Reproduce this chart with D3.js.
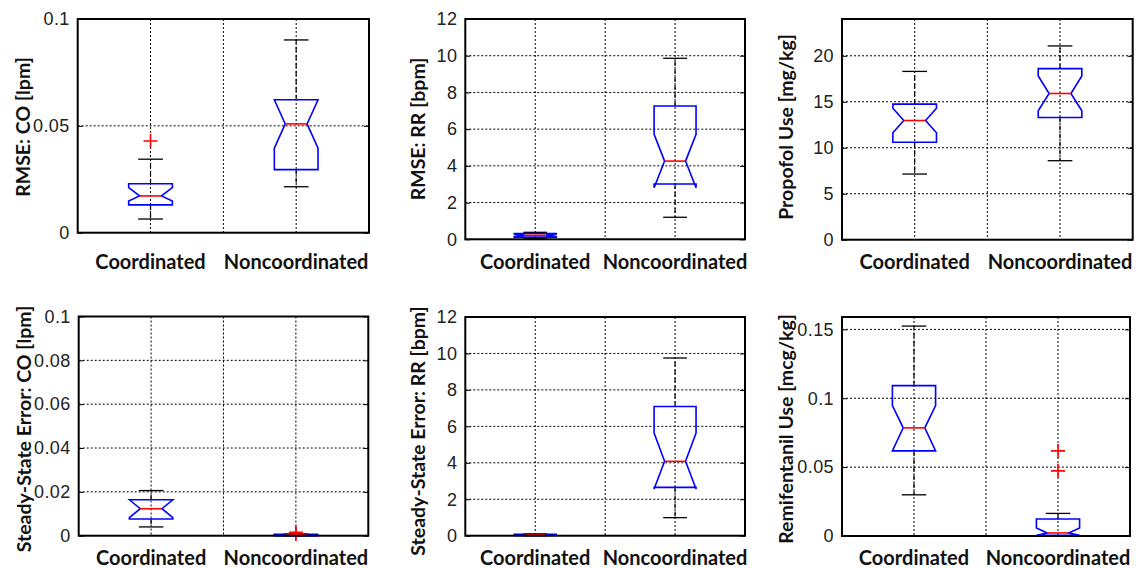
<!DOCTYPE html>
<html>
<head>
<meta charset="utf-8">
<script src="https://cdn.jsdelivr.net/npm/d3@7"></script>
<style>
  body { margin: 0; background: #fff; }
  .tick-label { font-family: "Liberation Sans", Arial, sans-serif; font-size: 18px; letter-spacing: 0.4px; fill: #222; }
  .axis-title { font-family: Lato, "Liberation Sans", sans-serif; font-size: 19.5px; font-weight: bold; fill: #111; }
  .cat-label { font-family: Lato, "Liberation Sans", sans-serif; font-size: 20px; font-weight: bold; fill: #111; }
</style>
</head>
<body>
<svg id="chart" width="1136" height="568" viewBox="0 0 1136 568"></svg>
<script>
const categories = ["Coordinated", "Noncoordinated"];

// box stats, one entry per group
// lo/hi = whisker ends, nlo/nhi = notch ends
const rmseCO = [
    { lo: 0.0064, q1: 0.0130, nlo: 0.0148, med: 0.0172, nhi: 0.0211, q3: 0.0229, hi: 0.0344 },
    { lo: 0.0215, q1: 0.0295, nlo: 0.0395, med: 0.0509, nhi: 0.0622, q3: 0.0622, hi: 0.0902 }
];
const rmseCOOutliers = [[0.0429], []];

const rmseRR = [
    { lo: 0.05, q1: 0.12, nlo: 0.15, med: 0.22, nhi: 0.29, q3: 0.32, hi: 0.38 },
    { lo: 1.20, q1: 3.01, nlo: 2.81, med: 4.26, nhi: 5.72, q3: 7.26, hi: 9.86 }
];
const rmseRROutliers = [[], []];

const propofol = [
    { lo: 7.14, q1: 10.59, nlo: 11.62, med: 12.96, nhi: 14.30, q3: 14.74, hi: 18.30 },
    { lo: 8.59, q1: 13.29, nlo: 14.02, med: 15.90, nhi: 17.80, q3: 18.60, hi: 21.07 }
];
const propofolOutliers = [[], []];

const sseCO = [
    { lo: 0.0040, q1: 0.0076, nlo: 0.0082, med: 0.0123, nhi: 0.0164, q3: 0.0164, hi: 0.0206 },
    { lo: 0.0000, q1: 0.0000, nlo: 0.0001, med: 0.0003, nhi: 0.0005, q3: 0.0006, hi: 0.0008 }
];
const sseCOOutliers = [[], [0.0016, 0.0008]];

const sseRR = [
    { lo: 0.00, q1: 0.02, nlo: 0.03, med: 0.05, nhi: 0.07, q3: 0.08, hi: 0.10 },
    { lo: 0.99, q1: 2.65, nlo: 2.56, med: 4.08, nhi: 5.63, q3: 7.09, hi: 9.75 }
];
const sseRROutliers = [[], []];

const remifentanil = [
    { lo: 0.0299, q1: 0.0618, nlo: 0.0618, med: 0.0785, nhi: 0.0947, q3: 0.1092, hi: 0.1524 },
    { lo: 0.0000, q1: 0.0005, nlo: 0.0005, med: 0.0022, nhi: 0.0058, q3: 0.0123, hi: 0.0164 }
];
const remifentanilOutliers = [[], [0.0618, 0.0473]];

// y ticks per panel
const ticksCO = [0, 0.05, 0.1];
const ticksRR = [0, 2, 4, 6, 8, 10, 12];
const ticksPropofol = [0, 5, 10, 15, 20];
const ticksSSECO = [0, 0.02, 0.04, 0.06, 0.08, 0.1];
const ticksRemi = [0, 0.05, 0.1, 0.15];

const svg = d3.select("#chart");

// panel layout: plot rectangle, y range, title position
const panels = [
    { x0: 77.7, x1: 369, y0: 19, y1: 232.7, ymax: 0.1, ticks: ticksCO, stats: rmseCO, outliers: rmseCOOutliers,
      title: "RMSE: CO [lpm]", tx: 22, ty: 127, catY: 269 },
    { x0: 465.3, x1: 745, y0: 19, y1: 239.3, ymax: 12, ticks: ticksRR, stats: rmseRR, outliers: rmseRROutliers,
      title: "RMSE: RR [bpm]", tx: 417, ty: 129, catY: 269 },
    { x0: 842, x1: 1132.7, y0: 19, y1: 239.7, ymax: 24, ticks: ticksPropofol, stats: propofol, outliers: propofolOutliers,
      title: "Propofol Use [mg/kg]", tx: 785, ty: 127, catY: 269 },
    { x0: 78.7, x1: 368.3, y0: 316.5, y1: 535.7, ymax: 0.1, ticks: ticksSSECO, stats: sseCO, outliers: sseCOOutliers,
      title: "Steady-State Error: CO [lpm]", tx: 23, ty: 429, catY: 565 },
    { x0: 465.3, x1: 745, y0: 317, y1: 535.7, ymax: 12, ticks: ticksRR, stats: sseRR, outliers: sseRROutliers,
      title: "Steady-State Error: RR [bpm]", tx: 417, ty: 431, catY: 565 },
    { x0: 842, x1: 1130, y0: 317, y1: 536, ymax: 0.159, ticks: ticksRemi, stats: remifentanil, outliers: remifentanilOutliers,
      title: "Remifentanil Use [mcg/kg]", tx: 785, ty: 429, catY: 565 }
];

panels.forEach(drawPanel);

function drawPanel(p) {
    const x = d3.scaleLinear().domain([0.5, 2.5]).range([p.x0, p.x1]);
    const y = d3.scaleLinear().domain([0, p.ymax]).range([p.y1, p.y0]);
    const g = svg.append("g");

    const hw = x(1.15) - x(1);     // box half width
    const ww = hw / 2;              // notch waist half width
    const cw = x(1.085) - x(1);     // whisker cap half width

    // grid
    g.append("g").selectAll("line")
        .data(p.ticks)
        .join("line")
        .attr("x1", p.x0).attr("x2", p.x1)
        .attr("y1", d => y(d)).attr("y2", d => y(d))
        .attr("stroke", "#000").attr("stroke-width", 1)
        .attr("stroke-dasharray", "2,2");

    g.append("g").selectAll("line")
        .data([1, 1.5, 2])
        .join("line")
        .attr("x1", d => x(d)).attr("x2", d => x(d))
        .attr("y1", p.y0).attr("y2", p.y1)
        .attr("stroke", "#000").attr("stroke-width", 1)
        .attr("stroke-dasharray", "2,2");

    const groups = g.append("g").selectAll("g")
        .data(p.stats)
        .join("g");

    // whiskers
    groups.append("line")
        .attr("x1", (d, i) => x(i + 1)).attr("x2", (d, i) => x(i + 1))
        .attr("y1", d => y(d.q3)).attr("y2", d => y(d.hi))
        .attr("stroke", "#000").attr("stroke-width", 1.2)
        .attr("stroke-dasharray", "5,3");
    groups.append("line")
        .attr("x1", (d, i) => x(i + 1)).attr("x2", (d, i) => x(i + 1))
        .attr("y1", d => y(d.q1)).attr("y2", d => y(d.lo))
        .attr("stroke", "#000").attr("stroke-width", 1.2)
        .attr("stroke-dasharray", "5,3");
    ["hi", "lo"].forEach(k => {
        groups.append("line")
            .attr("x1", (d, i) => x(i + 1) - cw).attr("x2", (d, i) => x(i + 1) + cw)
            .attr("y1", d => y(d[k])).attr("y2", d => y(d[k]))
            .attr("stroke", "#000").attr("stroke-width", 1.3);
    });

    // notched boxes
    groups.append("path")
        .attr("d", (d, i) => {
            const cx = x(i + 1);
            const pts = [
                [cx - hw, y(d.q3)], [cx - hw, y(d.nhi)], [cx - ww, y(d.med)], [cx - hw, y(d.nlo)], [cx - hw, y(d.q1)],
                [cx + hw, y(d.q1)], [cx + hw, y(d.nlo)], [cx + ww, y(d.med)], [cx + hw, y(d.nhi)], [cx + hw, y(d.q3)]
            ];
            return d3.line()(pts) + "Z";
        })
        .attr("fill", "none")
        .attr("stroke", "#0000ff").attr("stroke-width", 1.6);

    // medians
    groups.append("line")
        .attr("x1", (d, i) => x(i + 1) - ww).attr("x2", (d, i) => x(i + 1) + ww)
        .attr("y1", d => y(d.med)).attr("y2", d => y(d.med))
        .attr("stroke", "#ff0000").attr("stroke-width", 1.6);

    // outliers
    const pts = p.outliers.flatMap((arr, i) => arr.map(v => ({ i, v })));
    g.append("g").selectAll("path")
        .data(pts)
        .join("path")
        .attr("d", d => {
            const cx = x(d.i + 1), cy = y(d.v), s = 7;
            return `M${cx - s},${cy}H${cx + s}M${cx},${cy - s}V${cy + s}`;
        })
        .attr("stroke", "#ff0000").attr("stroke-width", 1.6);

    // inward ticks on both sides
    g.append("g")
        .attr("transform", `translate(${p.x0},0)`)
        .call(d3.axisLeft(y).tickValues(p.ticks).tickSize(-5).tickFormat(""))
        .call(a => a.select(".domain").remove());
    g.append("g")
        .attr("transform", `translate(${p.x1},0)`)
        .call(d3.axisRight(y).tickValues(p.ticks).tickSize(-5).tickFormat(""))
        .call(a => a.select(".domain").remove());

    // tick labels
    const labels = g.append("g")
        .attr("transform", `translate(${p.x0},0)`)
        .call(d3.axisLeft(y).tickValues(p.ticks).tickSize(0).tickPadding(8).tickFormat(d => String(d)));
    labels.select(".domain").remove();
    labels.selectAll("text").attr("class", "tick-label").attr("font-size", null).attr("font-family", null);

    // frame
    g.append("rect")
        .attr("x", p.x0).attr("y", p.y0)
        .attr("width", p.x1 - p.x0).attr("height", p.y1 - p.y0)
        .attr("fill", "none").attr("stroke", "#000").attr("stroke-width", 2);

    // category labels
    g.append("g").selectAll("text")
        .data(categories)
        .join("text")
        .attr("class", "cat-label")
        .attr("x", (d, i) => x(i + 1))
        .attr("y", p.catY)
        .attr("text-anchor", "middle")
        .text(d => d);

    // y title
    g.append("text")
        .attr("class", "axis-title")
        .attr("transform", `translate(${p.tx},${p.ty}) rotate(-90)`)
        .attr("text-anchor", "middle")
        .attr("dominant-baseline", "central")
        .text(p.title);
}
</script>
</body>
</html>
